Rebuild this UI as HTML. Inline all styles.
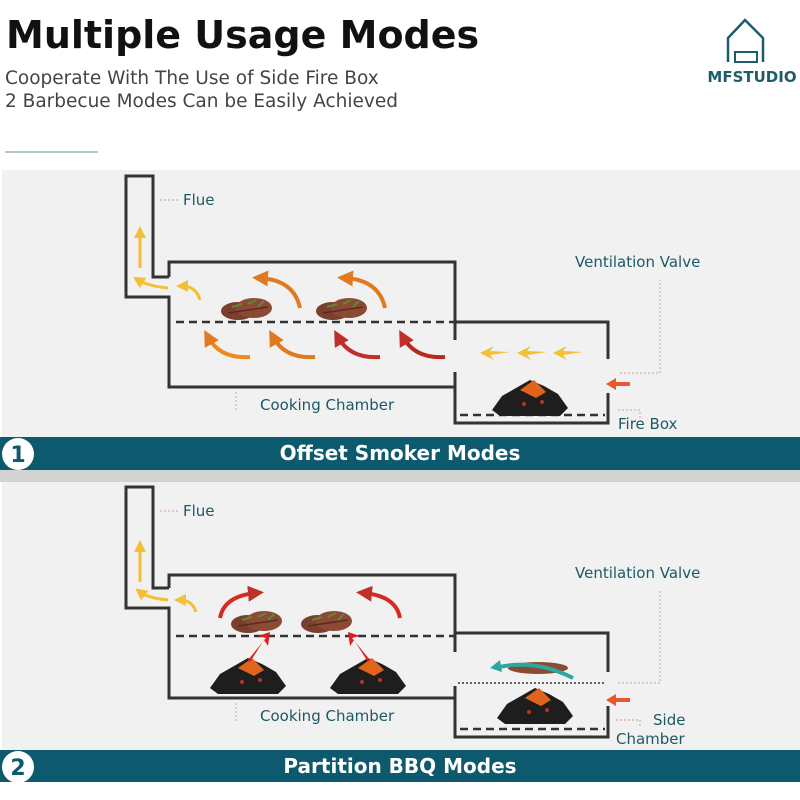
<!DOCTYPE html>
<html><head><meta charset="utf-8"><style>
html,body{margin:0;padding:0;background:#fff;}
svg{display:block;font-family:"DejaVu Sans","Liberation Sans",sans-serif;}
</style></head><body>
<svg width="800" height="800" viewBox="0 0 800 800" xmlns="http://www.w3.org/2000/svg">
<defs>
<g id="steak">
  <ellipse cx="0" cy="0" rx="17" ry="9" fill="#7a3f2e"/>
  <ellipse cx="16" cy="-3" rx="18" ry="10" fill="#8c4a35"/>
  <path d="M-6 -4 l10 -3 M10 -7 l8 -4 M20 -4 l6 -6" stroke="#5c8a3a" stroke-width="2"/>
  <path d="M-10 2 l40 -6" stroke="#5b2a1e" stroke-width="1.5"/>
</g>
<g id="coal">
  <path d="M-38 10 L-28 -4 L-14 -12 L0 -20 L14 -14 L28 -6 L38 8 L30 16 L-30 16 Z" fill="#1e1e1e"/>
  <path d="M-10 -10 L4 -20 L16 -8 L6 -2 Z" fill="#e0641c"/>
  <circle cx="-6" cy="4" r="2" fill="#c0302a"/>
  <circle cx="12" cy="2" r="2" fill="#c0302a"/>
</g>
<g id="yarr"><path d="M0 0 L14 -7 L10 -2 L30 -1 L10 2 L14 7 Z" fill="#f2bf35"/></g>
<marker id="mo" viewBox="0 0 10 10" refX="5" refY="5" markerWidth="4" markerHeight="4" orient="auto"><path d="M0 0 L10 5 L0 10 z" fill="#e07a1e"/></marker>
<marker id="mr" viewBox="0 0 10 10" refX="5" refY="5" markerWidth="4" markerHeight="4" orient="auto"><path d="M0 0 L10 5 L0 10 z" fill="#c0302a"/></marker>
<marker id="my" viewBox="0 0 10 10" refX="5" refY="5" markerWidth="4" markerHeight="4" orient="auto"><path d="M0 0 L10 5 L0 10 z" fill="#f2bf35"/></marker>
</defs>
<rect width="800" height="800" fill="#fff"/>
<text x="6" y="48" font-size="38" font-weight="bold" fill="#111">Multiple Usage Modes</text>
<text x="5" y="84" font-size="18.5" fill="#444">Cooperate With The Use of Side Fire Box</text>
<text x="5" y="107" font-size="18.5" fill="#444">2 Barbecue Modes Can be Easily Achieved</text>
<line x1="5" y1="152" x2="98" y2="152" stroke="#6a8f99" stroke-width="1"/>
<!-- logo -->
<path d="M728 62 V38 L745 20 L763 38 V62" fill="none" stroke="#1d5d6a" stroke-width="2.5"/>
<rect x="735" y="52" width="22" height="10" fill="none" stroke="#1d5d6a" stroke-width="2"/>
<text x="752" y="82" font-size="15" font-weight="bold" text-anchor="middle" fill="#1d5d6a">MFSTUDIO</text>

<!-- panel 1 -->
<rect x="2" y="170" width="798" height="267" fill="#f1f1f1"/>
<g fill="none" stroke="#333" stroke-width="3">
<path d="M169 277 H153 V176 H126 V297 H169 V387 H455 V372"/>
<path d="M455 340 V262 H169 V277"/>
<path d="M455 322 H608 V359"/>
<path d="M455 372 V423 H608 V393"/>
</g>
<line x1="176" y1="322" x2="455" y2="322" stroke="#333" stroke-width="2.5" stroke-dasharray="8,5"/>
<line x1="460" y1="415" x2="605" y2="415" stroke="#333" stroke-width="2.5" stroke-dasharray="8,5"/>
<use href="#steak" x="238" y="311"/><use href="#steak" x="333" y="311"/>
<use href="#coal" x="530" y="400"/>
<path d="M140 268 V232" stroke="#f2bf35" stroke-width="3" marker-end="url(#my)"/>
<path d="M168 288 q-20 -2 -30 -8" stroke="#f2bf35" stroke-width="3" fill="none" marker-end="url(#my)"/>
<path d="M200 300 q-4 -14 -18 -14" stroke="#f2bf35" stroke-width="3" fill="none" marker-end="url(#my)"/>
<path d="M300 308 q-6 -28 -40 -30" stroke="#e07a1e" stroke-width="4" fill="none" marker-end="url(#mo)"/>
<path d="M385 308 q-6 -28 -40 -30" stroke="#e07a1e" stroke-width="4" fill="none" marker-end="url(#mo)"/>
<path d="M250 357 q-30 2 -42 -20" stroke="#f08a1e" stroke-width="4" fill="none" marker-end="url(#mo)"/>
<path d="M315 357 q-30 2 -42 -20" stroke="#e07a1e" stroke-width="4" fill="none" marker-end="url(#mo)"/>
<path d="M380 357 q-30 2 -42 -20" stroke="#c0302a" stroke-width="4" fill="none" marker-end="url(#mr)"/>
<path d="M445 357 q-30 2 -42 -20" stroke="#b8281e" stroke-width="4" fill="none" marker-end="url(#mr)"/>
<use href="#yarr" x="480" y="353"/><use href="#yarr" x="517" y="353"/><use href="#yarr" x="553" y="353"/>
<path d="M606 384 l10 -6 v4 h14 v4 h-14 v4 z" fill="#e8582a"/>
<g font-size="15" fill="#1d5866">
<text x="183" y="205">Flue</text>
<text x="260" y="410">Cooking Chamber</text>
<text x="575" y="267">Ventilation Valve</text>
<text x="618" y="429">Fire Box</text>
</g>
<g stroke="#d4a090" stroke-width="1" stroke-dasharray="2,2" fill="none">
<path d="M160 200 H180"/><path d="M236 392 V412"/><path d="M620 373 H660 V280"/><path d="M618 410 H640 V418"/>
</g>
<rect x="0" y="437" width="800" height="33" fill="#0d5a6e"/>
<circle cx="18" cy="454" r="16" fill="#fff"/>
<text x="18" y="462" font-size="22" font-weight="bold" text-anchor="middle" fill="#0d5a6e">1</text>
<text x="400" y="460" font-size="20" font-weight="bold" text-anchor="middle" fill="#fff">Offset Smoker Modes</text>
<rect x="0" y="470" width="800" height="12" fill="#d2d2d2"/>

<!-- panel 2 -->
<rect x="2" y="482" width="798" height="268" fill="#f1f1f1"/>
<g fill="none" stroke="#333" stroke-width="3">
<path d="M169 588 H153 V487 H126 V608 H169 V698 H455 V686"/>
<path d="M455 652 V575 H169 V588"/>
<path d="M455 633 H608 V672"/>
<path d="M455 686 V737 H608 V706"/>
</g>
<line x1="176" y1="636" x2="455" y2="636" stroke="#333" stroke-width="2.5" stroke-dasharray="8,5"/>
<line x1="458" y1="683" x2="606" y2="683" stroke="#333" stroke-width="1.5" stroke-dasharray="2,2"/>
<line x1="460" y1="729" x2="605" y2="729" stroke="#333" stroke-width="2.5" stroke-dasharray="8,5"/>
<use href="#steak" x="248" y="624"/><use href="#steak" x="318" y="624"/>
<use href="#coal" x="248" y="678"/><use href="#coal" x="368" y="678"/><use href="#coal" x="535" y="708"/>
<ellipse cx="538" cy="668" rx="30" ry="6" fill="#8c4a35"/>
<path d="M573 678 q-40 -20 -78 -10" stroke="#2aa8a0" stroke-width="4" fill="none"/>
<path d="M490 668 l10 -8 l2 12 z" fill="#2aa8a0"/>
<path d="M140 582 V546" stroke="#f2bf35" stroke-width="3" marker-end="url(#my)"/>
<path d="M168 600 q-20 -2 -28 -8" stroke="#f2bf35" stroke-width="3" fill="none" marker-end="url(#my)"/>
<path d="M196 612 q-4 -12 -16 -12" stroke="#f2bf35" stroke-width="3" fill="none" marker-end="url(#my)"/>
<path d="M220 618 q4 -22 36 -25" stroke="#d42a22" stroke-width="4" fill="none" marker-end="url(#mr)"/>
<path d="M400 618 q-4 -22 -36 -25" stroke="#d42a22" stroke-width="4" fill="none" marker-end="url(#mr)"/>
<path d="M248 660 l18 -22 l-8 -2 l12 -4 l-2 14 l-4 -6 l-14 22 z" fill="#e01e1e"/>
<path d="M370 660 l-18 -22 l8 -2 l-12 -4 l2 14 l4 -6 l14 22 z" fill="#e01e1e"/>
<path d="M606 700 l10 -6 v4 h14 v4 h-14 v4 z" fill="#e8582a"/>
<g font-size="15" fill="#1d5866">
<text x="183" y="516">Flue</text>
<text x="260" y="721">Cooking Chamber</text>
<text x="575" y="578">Ventilation Valve</text>
<text x="653" y="725">Side</text>
<text x="616" y="744">Chamber</text>
</g>
<g stroke="#d4a090" stroke-width="1" stroke-dasharray="2,2" fill="none">
<path d="M160 511 H180"/><path d="M236 703 V723"/><path d="M618 683 H660 V590"/><path d="M616 720 H640 V726"/>
</g>
<rect x="0" y="750" width="800" height="32" fill="#0d5a6e"/>
<circle cx="18" cy="767" r="16" fill="#fff"/>
<text x="18" y="775" font-size="22" font-weight="bold" text-anchor="middle" fill="#0d5a6e">2</text>
<text x="400" y="773" font-size="20" font-weight="bold" text-anchor="middle" fill="#fff">Partition BBQ Modes</text>
</svg>
</body></html>
